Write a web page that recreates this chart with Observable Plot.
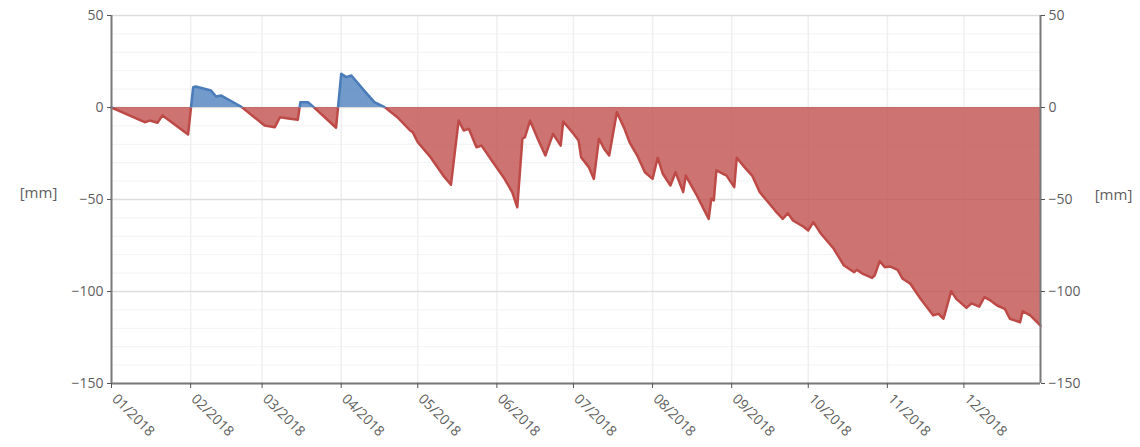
<!DOCTYPE html>
<html><head><meta charset="utf-8">
<script src="https://cdn.jsdelivr.net/npm/d3@7"></script>
<script src="https://cdn.jsdelivr.net/npm/@observablehq/plot@0.6"></script>
<style>
html,body{margin:0;padding:0;background:#fff;}
</style></head><body><div id="chart"></div>
<script>
// Cumulative climatic water balance 2018 [mm]
const dates = [
"2018-01-01","2018-01-14","2018-01-16","2018-01-19","2018-01-21","2018-01-31","2018-02-02","2018-02-03","2018-02-09","2018-02-11",
"2018-02-13","2018-02-20","2018-02-21","2018-03-02","2018-03-06","2018-03-08","2018-03-12","2018-03-15","2018-03-16","2018-03-19",
"2018-03-21","2018-03-30","2018-04-01","2018-04-03","2018-04-05","2018-04-10","2018-04-14","2018-04-18","2018-04-23","2018-04-28",
"2018-04-29","2018-05-01","2018-05-06","2018-05-11","2018-05-14","2018-05-17","2018-05-19","2018-05-21","2018-05-24","2018-05-26",
"2018-05-30","2018-06-04","2018-06-07","2018-06-09","2018-06-11","2018-06-12","2018-06-14","2018-06-17","2018-06-20","2018-06-21",
"2018-06-23","2018-06-26","2018-06-27","2018-07-01","2018-07-03","2018-07-04","2018-07-07","2018-07-09","2018-07-11","2018-07-13",
"2018-07-15","2018-07-18","2018-07-21","2018-07-23","2018-07-26","2018-07-29","2018-08-01","2018-08-03","2018-08-05","2018-08-08",
"2018-08-10","2018-08-13","2018-08-14","2018-08-18","2018-08-21","2018-08-23","2018-08-24","2018-08-25","2018-08-26","2018-08-30",
"2018-09-02","2018-09-03","2018-09-06","2018-09-09","2018-09-12","2018-09-18","2018-09-21","2018-09-23","2018-09-25","2018-09-29",
"2018-10-01","2018-10-03","2018-10-06","2018-10-11","2018-10-15","2018-10-19","2018-10-20","2018-10-22","2018-10-26","2018-10-27",
"2018-10-29","2018-10-31","2018-11-02","2018-11-05","2018-11-07","2018-11-10","2018-11-14","2018-11-19","2018-11-21","2018-11-23",
"2018-11-26","2018-11-28","2018-12-02","2018-12-04","2018-12-07","2018-12-09","2018-12-11","2018-12-14","2018-12-17","2018-12-19",
"2018-12-23","2018-12-24","2018-12-27","2018-12-31"
];
const values = [
0,-8.0,-7.1,-8.3,-4.3,-14.7,11.0,11.4,9.2,6.0,
6.5,1.1,0.2,-9.8,-10.7,-5.3,-6.1,-6.7,2.9,2.9,
0.5,-11.0,18.3,16.5,17.4,9.2,2.9,0.2,-5.3,-12.5,
-13.4,-18.9,-27.0,-37.0,-42.0,-7.1,-12.5,-11.6,-21.6,-20.7,
-28.8,-38.8,-46.0,-54.2,-17.0,-16.1,-7.1,-17.0,-26.1,-22.1,
-14.3,-20.7,-7.6,-14.3,-17.9,-27.0,-32.4,-38.8,-17.0,-22.4,
-26.1,-2.6,-11.6,-18.9,-26.1,-35.2,-38.8,-27.3,-36.0,-42.4,
-35.2,-46.0,-37.0,-46.9,-55.1,-60.5,-49.6,-50.5,-34.2,-37.0,
-43.3,-27.3,-32.4,-37.0,-46.0,-56.0,-60.5,-57.4,-61.4,-64.7,
-66.8,-62.3,-68.6,-76.8,-85.9,-89.5,-88.2,-90.1,-92.6,-91.3,
-83.5,-86.8,-86.4,-88.2,-93.1,-95.8,-104.0,-113.0,-112.1,-114.8,
-99.8,-104.0,-108.9,-106.4,-108.2,-103.1,-104.5,-107.6,-109.4,-114.8,
-116.7,-110.7,-113.0,-118.5
];
const yTicks = [50, 0, -50, -100, -150];
const monthTicks = ["2018-01-01","2018-02-01","2018-03-01","2018-04-01","2018-05-01","2018-06-01",
  "2018-07-01","2018-08-01","2018-09-01","2018-10-01","2018-11-01","2018-12-01"];
const xDomain = ["2018-01-01","2018-12-31"];
const unitLabel = "[mm]";

const data = dates.map((d, i) => ({date: new Date(d), value: values[i]}));
const months = monthTicks.map(d => new Date(d));
const W = 1140, H = 447, mL = 111, mR = 100, mT = 15, mB = 64;
const yMin = -150, yMax = 50;
const RED = "#c0504d", REDLINE = "#bd4a47", BLUE = "#4f81bd", BLUELINE = "#4a7cba";
const FONT = "'Open Sans', sans-serif";

const plot = Plot.plot({
  width: W, height: H,
  marginLeft: mL, marginRight: mR, marginTop: mT, marginBottom: mB,
  style: {fontFamily: FONT, fontSize: "14px", color: "#666", background: "#fff", overflow: "visible"},
  x: {type: "utc", domain: xDomain.map(d => new Date(d)), axis: null},
  y: {domain: [yMin, yMax], axis: null},
  marks: [
    Plot.ruleY(d3.range(yMin, yMax + 1, 10), {stroke: "#f2f2f2"}),
    Plot.ruleX(months, {stroke: "#efefef", strokeWidth: 1.5}),
    Plot.ruleY(yTicks, {stroke: "#dddddd", strokeWidth: 1.5}),
    Plot.areaY(data, {x: "date", y1: 0, y2: "value", fill: RED, fillOpacity: 0.8}),
    Plot.areaY(data, {x: "date", y1: 0, y2: "value", fill: BLUE, fillOpacity: 0.8}),
    Plot.lineY(data, {x: "date", y: "value", stroke: REDLINE, strokeWidth: 2.5}),
    Plot.lineY(data, {x: "date", y: "value", stroke: BLUELINE, strokeWidth: 2.5}),
    Plot.ruleX([xDomain[0]].map(d => new Date(d)), {stroke: "#7a7a7a", strokeWidth: 2}),
    Plot.ruleX([xDomain[1]].map(d => new Date(d)), {stroke: "#7a7a7a", strokeWidth: 2}),
    Plot.ruleY([yMin], {stroke: "#7a7a7a", strokeWidth: 2}),
    Plot.axisY({anchor: "left", ticks: yTicks, tickSize: 4, tickPadding: 4, label: null, stroke: "#555", fill: "#5e5e5e"}),
    Plot.axisY({anchor: "right", ticks: yTicks, tickSize: 4, tickPadding: 4, label: null, stroke: "#555", fill: "#5e5e5e"}),
    Plot.axisX({ticks: months, tickFormat: () => "", tickSize: 5, label: null, stroke: "#555"}),
    Plot.axisX({ticks: months, tickFormat: d3.utcFormat("%m/%Y"), tickRotate: 45, tickSize: 0, tickPadding: 13, dx: 3, label: null, fill: "#5e5e5e", fontSize: 14}),
    Plot.text([unitLabel], {frameAnchor: "left", dx: -73, dy: -6, textAnchor: "middle", fill: "#5e5e5e", fontSize: 15}),
    Plot.text([unitLabel], {frameAnchor: "right", dx: 73, dy: -4, textAnchor: "middle", fill: "#5e5e5e", fontSize: 15})
  ]
});

// split colours at the zero line: blue above, red below
const y0 = mT + (yMax - 0) / (yMax - yMin) * (H - mT - mB);
const ns = "http://www.w3.org/2000/svg";
const defs = document.createElementNS(ns, "defs");
function clip(id, y, h) {
  const cp = document.createElementNS(ns, "clipPath");
  cp.setAttribute("id", id);
  const r = document.createElementNS(ns, "rect");
  r.setAttribute("x", 0); r.setAttribute("y", y);
  r.setAttribute("width", W); r.setAttribute("height", h);
  cp.appendChild(r); defs.appendChild(cp);
}
clip("cpPos", 0, y0);
clip("cpNeg", y0, H - y0);
plot.insertBefore(defs, plot.firstChild);
plot.querySelectorAll(`g[fill="${RED}"], g[stroke="${REDLINE}"]`).forEach(g => g.setAttribute("clip-path", "url(#cpNeg)"));
plot.querySelectorAll(`g[fill="${BLUE}"], g[stroke="${BLUELINE}"]`).forEach(g => g.setAttribute("clip-path", "url(#cpPos)"));

document.getElementById("chart").appendChild(plot);
</script>
</body></html>
